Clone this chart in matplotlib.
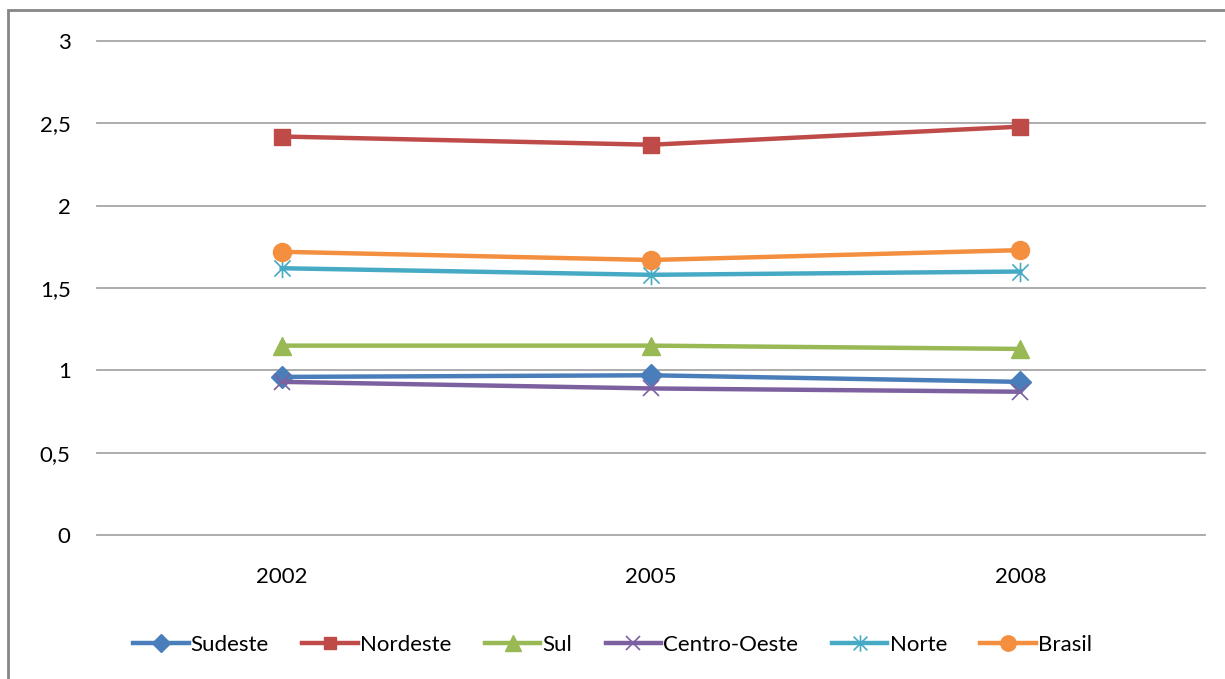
import matplotlib.pyplot as plt
from matplotlib.patches import Rectangle
from matplotlib.path import Path
from matplotlib.ticker import FuncFormatter

anos = ["2002", "2005", "2008"]
sudeste = [0.96, 0.97, 0.93]
nordeste = [2.42, 2.37, 2.48]
sul = [1.15, 1.15, 1.13]
centro_oeste = [0.93, 0.89, 0.87]
norte = [1.62, 1.58, 1.60]
brasil = [1.72, 1.67, 1.73]

# asterisco de 6 pontas (x + |) para a serie Norte
asterisco = Path([(-0.5, -0.5), (0.5, 0.5), (-0.5, 0.5), (0.5, -0.5), (0, -0.6), (0, 0.6)],
                 [Path.MOVETO, Path.LINETO, Path.MOVETO, Path.LINETO, Path.MOVETO, Path.LINETO])

series = [
    ("Sudeste", sudeste, "#4A7EBB", "D", 11),
    ("Nordeste", nordeste, "#BE4B48", "s", 11),
    ("Sul", sul, "#98B954", "^", 13),
    ("Centro-Oeste", centro_oeste, "#7D60A0", "x", 12),
    ("Norte", norte, "#46AAC5", asterisco, 14),
    ("Brasil", brasil, "#F38F3E", "o", 13),
]

plt.rcParams['font.family'] = ['Lato', 'DejaVu Sans']

fig = plt.figure(figsize=(12.25, 6.79), dpi=100)
ax = fig.add_axes([97 / 1225, 1 - 535 / 679, (1205 - 97) / 1225, (535 - 41) / 679])

x = list(range(len(anos)))
for nome, vals, cor, mk, ms in series:
    if nome in ("Norte", "Centro-Oeste"):
        ax.plot(x, vals, color=cor, lw=3.2, marker=mk, ms=ms, mew=1.2, mfc="none", label=nome, zorder=3)
    else:
        ax.plot(x, vals, color=cor, lw=3.2, marker=mk, ms=ms, label=nome, zorder=3)

ax.set_xlim(-0.5, 2.5)
ax.set_ylim(0, 3)
ax.set_xticks(x)
ax.set_xticklabels(anos)
ax.set_yticks([0, 0.5, 1, 1.5, 2, 2.5, 3])
ax.yaxis.set_major_formatter(FuncFormatter(lambda v, p: ("%g" % v).replace(".", ",")))
ax.grid(axis="y", color="#A6A6A6", lw=1.3)
for gl in ax.get_ygridlines():
    gl.set_clip_on(False)
ax.set_axisbelow(True)
for s in ax.spines.values():
    s.set_visible(False)
ax.tick_params(length=0, labelsize=16, colors="#000000")
ax.tick_params(axis="y", pad=19)
ax.tick_params(axis="x", pad=23)

handles, labels = ax.get_legend_handles_labels()
leg = fig.legend(handles, labels, loc="center", bbox_to_anchor=(0.5, 1 - 645 / 679), ncol=6,
                 frameon=False, fontsize=16, handlelength=2.5, columnspacing=1.5, handletextpad=0.1,
                 markerscale=0.85)

fig.patches.append(Rectangle((8 / 1225, -0.1), 1.2, 1 - 10 / 679 + 0.1, transform=fig.transFigure,
                             fill=False, edgecolor="#868686", lw=2))

fig.savefig("out.png", dpi=100)
